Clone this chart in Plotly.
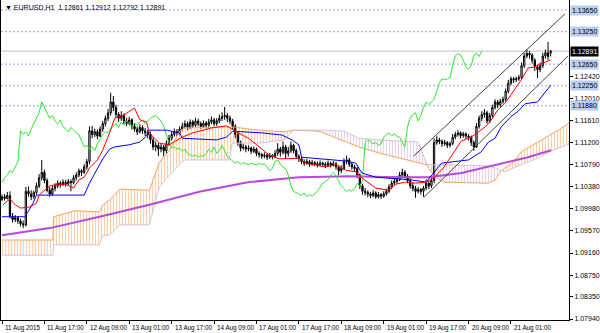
import plotly.graph_objects as go

# ---------------- data (EURUSD, H1) ----------------
opens = [1.1015,1.1020,1.1017,1.1022,1.0984,1.0978,1.0981,1.0975,1.0970,1.0968,
 1.1030,1.1025,1.1020,1.1028,1.1040,1.1055,1.1065,1.1050,1.1032,1.1025,
 1.1035,1.1040,1.1045,1.1042,1.1047,1.1044,1.1048,1.1046,1.1055,1.1060,
 1.1068,1.1065,1.1075,1.1085,1.1142,1.1135,1.1140,1.1132,1.1145,1.1155,
 1.1165,1.1175,1.1195,1.1185,1.1172,1.1165,1.1170,1.1160,1.1155,1.1162,
 1.1150,1.1145,1.1140,1.1148,1.1142,1.1138,1.1135,1.1125,1.1112,1.1115,
 1.1108,1.1112,1.1105,1.1118,1.1128,1.1135,1.1140,1.1138,1.1145,1.1150,
 1.1155,1.1148,1.1158,1.1152,1.1160,1.1155,1.1150,1.1156,1.1152,1.1158,
 1.1162,1.1155,1.1160,1.1165,1.1168,1.1170,1.1165,1.1160,1.1150,1.1135,
 1.1120,1.1110,1.1112,1.1108,1.1110,1.1104,1.1108,1.1100,1.1098,1.1095,
 1.1097,1.1093,1.1096,1.1094,1.1100,1.1108,1.1102,1.1112,1.1100,1.1105,
 1.1115,1.1105,1.1095,1.1090,1.1085,1.1082,1.1085,1.1080,1.1083,1.1081,
 1.1079,1.1082,1.1080,1.1078,1.1082,1.1079,1.1081,1.1075,1.1068,1.1072,
 1.1085,1.1088,1.1080,1.1075,1.1072,1.1060,1.1040,1.1030,1.1028,1.1025,
 1.1022,1.1027,1.1020,1.1024,1.1021,1.1025,1.1030,1.1038,1.1045,1.1048,
 1.1052,1.1060,1.1065,1.1058,1.1050,1.1040,1.1035,1.1030,1.1033,1.1030,
 1.1036,1.1045,1.1040,1.1050,1.1120,1.1125,1.1122,1.1118,1.1120,1.1115,
 1.1118,1.1130,1.1135,1.1138,1.1133,1.1136,1.1132,1.1130,1.1120,1.1112,
 1.1150,1.1165,1.1172,1.1175,1.1160,1.1170,1.1185,1.1195,1.1190,1.1196,
 1.1200,1.1215,1.1230,1.1238,1.1236,1.1238,1.1240,1.1262,1.1280,1.1285,
 1.1282,1.1272,1.1260,1.1255,1.1262,1.1280,1.1286,1.12861]

highs = [1.1024,1.1025,1.1029,1.1030,1.0990,1.0986,1.0984,1.0979,1.0976,1.1038,
 1.1039,1.1032,1.1031,1.1046,1.1062,1.1088,1.1070,1.1054,1.1038,1.1040,
 1.1045,1.1050,1.1049,1.1052,1.1051,1.1053,1.1052,1.1060,1.1065,1.1072,
 1.1071,1.1080,1.1090,1.1150,1.1151,1.1146,1.1144,1.1150,1.1160,1.1170,
 1.1182,1.1212,1.1206,1.1190,1.1176,1.1178,1.1174,1.1166,1.1168,1.1165,
 1.1156,1.1150,1.1154,1.1152,1.1147,1.1144,1.1140,1.1130,1.1122,1.1119,
 1.1118,1.1116,1.1124,1.1134,1.1140,1.1146,1.1145,1.1150,1.1157,1.1161,
 1.1159,1.1163,1.1162,1.1166,1.1164,1.1159,1.1161,1.1160,1.1164,1.1168,
 1.1166,1.1165,1.1172,1.1176,1.1186,1.1175,1.1170,1.1164,1.1154,1.1140,
 1.1124,1.1118,1.1116,1.1115,1.1113,1.1113,1.1111,1.1104,1.1101,1.1102,
 1.1100,1.1101,1.1099,1.1106,1.1119,1.1112,1.1122,1.1116,1.1112,1.1122,
 1.1118,1.1109,1.1098,1.1094,1.1089,1.1090,1.1088,1.1088,1.1086,1.1085,
 1.1087,1.1085,1.1084,1.1087,1.1085,1.1086,1.1084,1.1078,1.1078,1.1091,
 1.1096,1.1092,1.1084,1.1079,1.1075,1.1063,1.1044,1.1036,1.1032,1.1029,
 1.1032,1.1030,1.1029,1.1027,1.1030,1.1035,1.1043,1.1050,1.1054,1.1058,
 1.1066,1.1072,1.1069,1.1062,1.1054,1.1046,1.1040,1.1038,1.1036,1.1040,
 1.1052,1.1049,1.1055,1.1128,1.1132,1.1129,1.1126,1.1125,1.1123,1.1122,
 1.1136,1.1140,1.1143,1.1141,1.1140,1.1139,1.1136,1.1133,1.1124,1.1156,
 1.1170,1.1178,1.1182,1.1179,1.1175,1.1190,1.1200,1.1199,1.1201,1.1205,
 1.1220,1.1236,1.1242,1.1241,1.1242,1.1245,1.1268,1.1286,1.1292,1.1289,
 1.1285,1.1276,1.1264,1.1268,1.1286,1.1292,1.1306,1.12912]

lows = [1.1012,1.1013,1.1015,1.0980,1.0972,1.0973,1.0970,1.0965,1.0962,1.0965,
 1.1020,1.1014,1.1016,1.1024,1.1036,1.1050,1.1045,1.1028,1.1020,1.1022,
 1.1030,1.1036,1.1037,1.1040,1.1039,1.1041,1.1030,1.1043,1.1050,1.1056,
 1.1058,1.1062,1.1070,1.1080,1.1128,1.1130,1.1126,1.1130,1.1140,1.1150,
 1.1160,1.1170,1.1178,1.1166,1.1158,1.1160,1.1154,1.1150,1.1152,1.1144,
 1.1140,1.1134,1.1137,1.1136,1.1132,1.1128,1.1118,1.1106,1.1104,1.1095,
 1.1102,1.1095,1.1100,1.1114,1.1124,1.1131,1.1132,1.1134,1.1141,1.1146,
 1.1143,1.1145,1.1147,1.1149,1.1150,1.1145,1.1147,1.1146,1.1149,1.1154,
 1.1150,1.1151,1.1156,1.1160,1.1162,1.1158,1.1154,1.1144,1.1128,1.1114,
 1.1104,1.1106,1.1102,1.1104,1.1099,1.1101,1.1095,1.1092,1.1090,1.1091,
 1.1088,1.1090,1.1089,1.1091,1.1096,1.1094,1.1098,1.1090,1.1094,1.1101,
 1.1100,1.1090,1.1084,1.1080,1.1077,1.1079,1.1075,1.1077,1.1076,1.1074,
 1.1076,1.1075,1.1073,1.1075,1.1074,1.1076,1.1070,1.1060,1.1064,1.1069,
 1.1080,1.1075,1.1070,1.1066,1.1054,1.1034,1.1024,1.1022,1.1019,1.1017,
 1.1019,1.1016,1.1017,1.1016,1.1018,1.1022,1.1027,1.1034,1.1041,1.1044,
 1.1049,1.1056,1.1054,1.1045,1.1035,1.1030,1.1018,1.1026,1.1024,1.1020,
 1.1032,1.1034,1.1036,1.1045,1.1116,1.1117,1.1112,1.1114,1.1110,1.1111,
 1.1115,1.1126,1.1131,1.1128,1.1129,1.1127,1.1124,1.1114,1.1105,1.1110,
 1.1146,1.1160,1.1166,1.1155,1.1156,1.1166,1.1181,1.1184,1.1186,1.1192,
 1.1196,1.1211,1.1226,1.1230,1.1232,1.1234,1.1237,1.1258,1.1276,1.1275,
 1.1266,1.1252,1.1239,1.1250,1.1258,1.1275,1.1273,1.12792]

closes = [1.1020,1.1017,1.1022,1.0984,1.0978,1.0981,1.0975,1.0970,1.0968,1.1030,
 1.1025,1.1020,1.1028,1.1040,1.1055,1.1065,1.1050,1.1032,1.1025,1.1035,
 1.1040,1.1045,1.1042,1.1047,1.1044,1.1048,1.1046,1.1055,1.1060,1.1068,
 1.1065,1.1075,1.1085,1.1142,1.1135,1.1140,1.1132,1.1145,1.1155,1.1165,
 1.1175,1.1195,1.1185,1.1172,1.1165,1.1170,1.1160,1.1155,1.1162,1.1150,
 1.1145,1.1140,1.1148,1.1142,1.1138,1.1135,1.1125,1.1112,1.1115,1.1108,
 1.1112,1.1105,1.1118,1.1128,1.1135,1.1140,1.1138,1.1145,1.1150,1.1155,
 1.1148,1.1158,1.1152,1.1160,1.1155,1.1150,1.1156,1.1152,1.1158,1.1162,
 1.1155,1.1160,1.1165,1.1168,1.1170,1.1165,1.1160,1.1150,1.1135,1.1120,
 1.1110,1.1112,1.1108,1.1110,1.1104,1.1108,1.1100,1.1098,1.1095,1.1097,
 1.1093,1.1096,1.1094,1.1100,1.1108,1.1102,1.1112,1.1100,1.1105,1.1115,
 1.1105,1.1095,1.1090,1.1085,1.1082,1.1085,1.1080,1.1083,1.1081,1.1079,
 1.1082,1.1080,1.1078,1.1082,1.1079,1.1081,1.1075,1.1068,1.1072,1.1085,
 1.1088,1.1080,1.1075,1.1072,1.1060,1.1040,1.1030,1.1028,1.1025,1.1022,
 1.1027,1.1020,1.1024,1.1021,1.1025,1.1030,1.1038,1.1045,1.1048,1.1052,
 1.1060,1.1065,1.1058,1.1050,1.1040,1.1035,1.1030,1.1033,1.1030,1.1036,
 1.1045,1.1040,1.1050,1.1120,1.1125,1.1122,1.1118,1.1120,1.1115,1.1118,
 1.1130,1.1135,1.1138,1.1133,1.1136,1.1132,1.1130,1.1120,1.1112,1.1150,
 1.1165,1.1172,1.1175,1.1160,1.1170,1.1185,1.1195,1.1190,1.1196,1.1200,
 1.1215,1.1230,1.1238,1.1236,1.1238,1.1240,1.1262,1.1280,1.1285,1.1282,
 1.1272,1.1260,1.1255,1.1262,1.1280,1.1286,1.1279,1.12891]

bars = list(range(len(closes)))
chikou_shift = 26

# Tenkan-sen (red): bar index / price
tenkan_x = [0.4,3,5,7,10.5,13,14,18,21,24,27,29,31,33,36,38,40.6,42.5,46,49,50,52,54.5,55.6,
            59.4,63,68,72,75.6,79,84.6,88,90.6,93,97,100.8,104.5,108,112,114.7,118.4,122,126,
            129.7,133.5,135.7,141,145.9,148.5,152,156,160,163,166.5,171,173.3,177,179.7,182.3,
            184.6,187,189.8,192.9,195.9,198.5,201,203,207]
tenkan = [1.1005,1.1016,1.1005,1.0999,1.1001,1.1008,1.1023,1.1040,1.1043,1.1043,1.1036,1.1051,
          1.1056,1.1073,1.1088,1.1106,1.1138,1.1165,1.1171,1.1182,1.1184,1.1162,1.1158,1.1138,
          1.1119,1.1116,1.1130,1.1138,1.1143,1.1147,1.1151,1.1141,1.1134,1.1128,1.1112,1.1097,
          1.1090,1.1091,1.1091,1.1082,1.1079,1.1075,1.1079,1.1069,1.1066,1.1055,1.1036,1.1032,
          1.1043,1.1047,1.1045,1.1047,1.1055,1.1073,1.1106,1.1123,1.1130,1.1140,1.1149,1.1162,
          1.1180,1.1193,1.1214,1.1236,1.1258,1.1260,1.1265,1.1273]

# Kijun-sen (blue)
kijun_x = [0,8.6,9.8,11.7,13,31,33,36,38,40.6,42.5,48,52,54.5,55.6,62,67,68,81,84.6,87,98,
           105.6,109.4,112,113,118.4,124.4,129.7,133.5,135.7,141,154.5,160,163,165.8,176,
           180.8,183.5,186,188.3,192,194.7,197.4,202,204.9,207]
kijun = [1.0983,1.0983,1.0992,1.1008,1.1023,1.1023,1.1045,1.1073,1.1090,1.1108,1.1112,1.1116,
         1.1121,1.1132,1.1143,1.1143,1.1138,1.1128,1.1125,1.1130,1.1141,1.1138,1.1134,1.1125,
         1.1116,1.1093,1.1091,1.1088,1.1086,1.1082,1.1064,1.1056,1.1051,1.1047,1.1064,1.1082,
         1.1088,1.1103,1.1121,1.1128,1.1149,1.1168,1.1178,1.1192,1.1195,1.1212,1.1226]

# Senkou span A / B (cloud, already shifted forward)
cloud_x = [0,19.2,19.5,27.4,36.8,38,40.6,44.4,55.6,57.5,59.4,63.2,66.9,68.8,85.7,86.8,97,106.4,
           110.2,119.5,123.3,129,134.6,142.1,149.6,157.1,160.2,162.8,166.5,183.5,186.1,188.3,
           189.8,192.9,195.9,202.3,207.1,209.8,213.9]
span_a = [1.0940,1.0940,1.0983,1.0994,1.0992,1.1005,1.1014,1.1034,1.1032,1.1060,1.1084,1.1106,
          1.1140,1.1147,1.1149,1.1149,1.1143,1.1140,1.1143,1.1141,1.1134,1.1123,1.1112,1.1101,
          1.1092,1.1084,1.1079,1.1060,1.1047,1.1045,1.1051,1.1068,1.1073,1.1084,1.1103,1.1121,
          1.1136,1.1143,1.1156]
span_b = [1.0912,1.0912,1.0931,1.0931,1.0931,1.0949,1.0949,1.0968,1.0968,1.1005,1.1038,1.1060,
          1.1079,1.1088,1.1088,1.1119,1.1119,1.1125,1.1143,1.1143,1.1143,1.1141,1.1128,1.1125,
          1.1123,1.1121,1.1080,1.1079,1.1079,1.1077,1.1073,1.1068,1.1066,1.1073,1.1079,1.1092,
          1.1104,1.1110,1.1117]

# moving average (purple)
ma_x = [0,18,36.8,55.6,74.4,93.2,112,130.8,149.6,160.9,173.3,186.1,198.5,207.1]
ma = [1.0949,1.0962,1.0983,1.1005,1.1029,1.1047,1.1056,1.1058,1.1056,1.1056,1.1064,1.1079,
      1.1093,1.1106]

# drawn objects
levels = [1.13650, 1.13250, 1.12650, 1.12250, 1.11880]
bid = 1.12891
channel_upper_x = [155.3, 212.4]
channel_upper_y = [1.1095, 1.1358]
channel_lower_x = [159.0, 213.5]
channel_lower_y = [1.1018, 1.1280]

ytick_vals = [1.12420, 1.12010, 1.11610, 1.11200, 1.10790, 1.10380, 1.09980,
              1.09570, 1.09160, 1.08750, 1.08350, 1.07940]
xtick_bars = [0, 16, 32, 48, 64, 80, 96, 112, 128, 144, 160, 176, 192]
xtick_labels = ["11 Aug 2015", "11 Aug 17:00", "12 Aug 09:00", "13 Aug 01:00", "13 Aug 17:00",
                "14 Aug 09:00", "17 Aug 01:00", "17 Aug 17:00", "18 Aug 09:00", "19 Aug 01:00",
                "19 Aug 17:00", "20 Aug 09:00", "21 Aug 01:00"]
header = "\u25BC EURUSD,H1  1.12861 1.12912 1.12792 1.12891"

FONT = "Liberation Sans"
SANDY = "#F4A460"
THISTLE = "#CFA8D4"

fig = go.Figure()

# ---- cloud hatching ----
segs = []
cur = []
cur_sign = 0
for i in range(len(cloud_x)):
    d = span_a[i] - span_b[i]
    s = 0 if abs(d) < 1e-9 else (1 if d > 0 else -1)
    cur.append(i)
    if s == 0:
        if len(cur) > 1:
            segs.append((cur_sign, cur))
        cur = [i]
        cur_sign = 0
    elif cur_sign == 0:
        cur_sign = s
if len(cur) > 1:
    segs.append((cur_sign, cur))

for sgn, idx in segs:
    col = SANDY if sgn >= 0 else THISTLE
    px = [cloud_x[j] for j in idx] + [cloud_x[j] for j in reversed(idx)]
    py = [span_a[j] for j in idx] + [span_b[j] for j in reversed(idx)]
    fig.add_trace(go.Scatter(x=px, y=py, mode="lines", fill="toself",
                             line=dict(width=0), fillcolor="rgba(0,0,0,0)",
                             fillpattern=dict(shape="|", fgcolor=col, bgcolor="rgba(0,0,0,0)",
                                              size=3, solidity=0.4),
                             hoverinfo="skip", showlegend=False))

fig.add_trace(go.Scatter(x=cloud_x, y=span_a, mode="lines", line=dict(color=SANDY, width=1),
                         hoverinfo="skip", showlegend=False))
fig.add_trace(go.Scatter(x=cloud_x, y=span_b, mode="lines", line=dict(color="#D8BFD8", width=1),
                         hoverinfo="skip", showlegend=False))

# ---- candles ----
fig.add_trace(go.Candlestick(
    x=bars, open=opens, high=highs, low=lows, close=closes,
    increasing=dict(line=dict(color="#000000", width=1), fillcolor="#ffffff"),
    decreasing=dict(line=dict(color="#000000", width=1), fillcolor="#000000"),
    whiskerwidth=0, showlegend=False, hoverinfo="skip"))

# ---- indicator lines ----
fig.add_trace(go.Scatter(x=ma_x, y=ma, mode="lines", line=dict(color="#B84AD8", width=2),
                         hoverinfo="skip", showlegend=False))
fig.add_trace(go.Scatter(x=[b - chikou_shift for b in bars[chikou_shift:]],
                         y=closes[chikou_shift:], mode="lines",
                         line=dict(color="#2EE82E", width=1), hoverinfo="skip", showlegend=False))
fig.add_trace(go.Scatter(x=kijun_x, y=kijun, mode="lines", line=dict(color="#0000FF", width=1),
                         hoverinfo="skip", showlegend=False))
fig.add_trace(go.Scatter(x=tenkan_x, y=tenkan, mode="lines", line=dict(color="#FF0000", width=1),
                         hoverinfo="skip", showlegend=False))
fig.add_trace(go.Scatter(x=channel_upper_x, y=channel_upper_y, mode="lines",
                         line=dict(color="#404040", width=1), hoverinfo="skip", showlegend=False))
fig.add_trace(go.Scatter(x=channel_lower_x, y=channel_lower_y, mode="lines",
                         line=dict(color="#404040", width=1), hoverinfo="skip", showlegend=False))

# ---- horizontal lines ----
shapes = []
for lv in levels:
    shapes.append(dict(type="line", xref="paper", x0=0, x1=1, yref="y", y0=lv, y1=lv,
                       line=dict(color="#8FA8F0", width=1, dash="2px,2px"), layer="below"))
shapes.append(dict(type="line", xref="paper", x0=0, x1=1, yref="y", y0=bid, y1=bid,
                   line=dict(color="#C0C0C0", width=1), layer="below"))

annotations = []
for lv in levels:
    annotations.append(dict(xref="paper", x=1, xanchor="left", xshift=1, yref="y", y=lv,
                            yanchor="middle", text=f"{lv:.5f}", showarrow=False,
                            bgcolor="#B9CCF2", borderpad=1,
                            font=dict(family=FONT, size=7, color="#000000")))
annotations.append(dict(xref="paper", x=1, xanchor="left", xshift=1, yref="y", y=bid,
                        yanchor="middle", text=f"{bid:.5f}", showarrow=False,
                        bgcolor="#000000", borderpad=1,
                        font=dict(family=FONT, size=7, color="#FFFFFF")))
for b, t in zip(xtick_bars, xtick_labels):
    annotations.append(dict(xref="x", x=b, xanchor="left", xshift=1, yref="paper", y=0,
                            yanchor="top", yshift=-2, text=t, showarrow=False,
                            font=dict(family=FONT, size=6.3, color="#000000")))
annotations.append(dict(xref="paper", x=0, xanchor="left", xshift=2, yref="paper", y=1,
                        yanchor="top", yshift=-2, text=header, showarrow=False,
                        font=dict(family=FONT, size=7, color="#000000")))

fig.update_layout(
    width=600, height=333,
    margin=dict(l=1, r=29, t=0, b=13),
    paper_bgcolor="#FFFFFF", plot_bgcolor="#FFFFFF",
    showlegend=False,
    shapes=shapes, annotations=annotations,
    xaxis=dict(range=[-0.376, 213.9], showgrid=False, zeroline=False, showline=True,
               linecolor="#000000", linewidth=1, ticks="outside", ticklen=3,
               tickcolor="#000000", tickvals=xtick_bars, showticklabels=False,
               rangeslider=dict(visible=False), fixedrange=True),
    yaxis=dict(range=[1.07922, 1.13835], side="right", showgrid=False, zeroline=False,
               showline=True, mirror=True, linecolor="#000000", linewidth=1,
               ticks="outside", ticklen=3, tickcolor="#000000",
               tickvals=ytick_vals, ticktext=[f"{v:.5f}" for v in ytick_vals],
               tickfont=dict(family=FONT, size=7, color="#000000"), fixedrange=True),
)

fig.write_html("out.html")
